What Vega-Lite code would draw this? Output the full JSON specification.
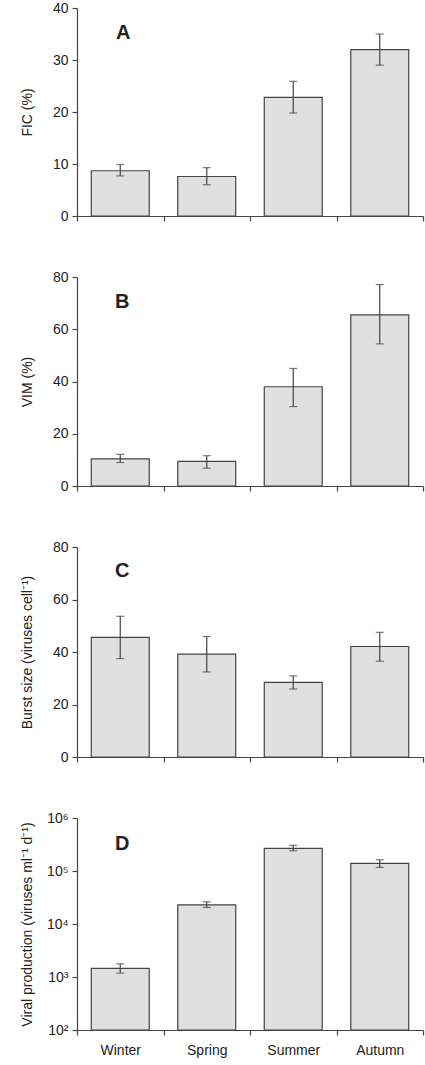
{
  "$schema": "https://vega.github.io/schema/vega-lite/v6.json",
  "padding": {"left": 19, "top": 1, "right": 3, "bottom": 6},
  "config": {
    "view": {"stroke": null},
    "font": "Liberation Sans",
    "concat": {"spacing": 47},
    "axis": {
      "grid": false,
      "domainColor": "#444444",
      "tickColor": "#444444",
      "domainWidth": 1.2,
      "tickWidth": 1.2,
      "tickSize": 5,
      "labelColor": "#222222",
      "titleColor": "#222222",
      "labelFontSize": 14,
      "titleFontSize": 14,
      "titleFontWeight": "normal",
      "labelPadding": 4
    }
  },
  "datasets": {
    "d": [
      {"panel": "A", "season": "Winter", "value": 8.7, "lo": 7.7, "hi": 9.9},
      {"panel": "A", "season": "Spring", "value": 7.6, "lo": 6.0, "hi": 9.3},
      {"panel": "A", "season": "Summer", "value": 22.8, "lo": 19.8, "hi": 25.9},
      {"panel": "A", "season": "Autumn", "value": 32.0, "lo": 29.0, "hi": 35.0},
      {"panel": "B", "season": "Winter", "value": 10.4, "lo": 9.0, "hi": 12.1},
      {"panel": "B", "season": "Spring", "value": 9.4, "lo": 6.8, "hi": 11.6},
      {"panel": "B", "season": "Summer", "value": 38.0, "lo": 30.4, "hi": 45.0},
      {"panel": "B", "season": "Autumn", "value": 65.5, "lo": 54.4, "hi": 77.1},
      {"panel": "C", "season": "Winter", "value": 45.6, "lo": 37.5, "hi": 53.6},
      {"panel": "C", "season": "Spring", "value": 39.2, "lo": 32.4, "hi": 45.9},
      {"panel": "C", "season": "Summer", "value": 28.4, "lo": 25.9, "hi": 30.9},
      {"panel": "C", "season": "Autumn", "value": 42.1, "lo": 36.5, "hi": 47.5},
      {"panel": "D", "season": "Winter", "value": 1450, "lo": 1180, "hi": 1770},
      {"panel": "D", "season": "Spring", "value": 23000, "lo": 20500, "hi": 26200},
      {"panel": "D", "season": "Summer", "value": 267000, "lo": 241000, "hi": 304000},
      {"panel": "D", "season": "Autumn", "value": 139000, "lo": 117000, "hi": 163000}
    ],
    "labels": [
      {"panel": "A", "label": "A"},
      {"panel": "B", "label": "B"},
      {"panel": "C", "label": "C"},
      {"panel": "D", "label": "D"}
    ]
  },
  "vconcat": [
    {
      "width": 346, "height": 208,
      "encoding": {
        "x": {"field": "season", "type": "nominal", "sort": ["Winter", "Spring", "Summer", "Autumn"],
              "scale": {"paddingInner": 0, "paddingOuter": 0},
              "axis": {"title": null, "labels": false, "tickBand": "extent"}}
      },
      "layer": [
        {"data": {"name": "d"}, "transform": [{"filter": "datum.panel === 'A'"}],
         "mark": {"type": "bar", "fill": "#e0e0e0", "stroke": "#444444", "strokeWidth": 1.2, "width": {"band": 0.67}},
         "encoding": {"y": {"field": "value", "type": "quantitative", "scale": {"domain": [0, 40]},
           "axis": {"values": [0, 10, 20, 30, 40], "title": "FIC (%)", "titleX": -50, "titleBaseline": "middle"}}}},
        {"data": {"name": "d"}, "transform": [{"filter": "datum.panel === 'A'"}],
         "mark": {"type": "errorbar", "color": "#444444", "thickness": 1.2, "ticks": {"size": 8, "thickness": 1.2}},
         "encoding": {"y": {"field": "lo", "type": "quantitative", "title": "FIC (%)"}, "y2": {"field": "hi"}}},
        {"data": {"name": "labels"}, "transform": [{"filter": "datum.panel === 'A'"}],
         "mark": {"type": "text", "fontSize": 20, "fontWeight": "bold", "color": "#222222", "dx": 3, "baseline": "middle"},
         "encoding": {"x": {"datum": "Winter"}, "y": {"datum": 35.2}, "text": {"field": "label"}}}
      ]
    },
    {
      "width": 346, "height": 209,
      "encoding": {
        "x": {"field": "season", "type": "nominal", "sort": ["Winter", "Spring", "Summer", "Autumn"],
              "scale": {"paddingInner": 0, "paddingOuter": 0},
              "axis": {"title": null, "labels": false, "tickBand": "extent"}}
      },
      "layer": [
        {"data": {"name": "d"}, "transform": [{"filter": "datum.panel === 'B'"}],
         "mark": {"type": "bar", "fill": "#e0e0e0", "stroke": "#444444", "strokeWidth": 1.2, "width": {"band": 0.67}},
         "encoding": {"y": {"field": "value", "type": "quantitative", "scale": {"domain": [0, 80]},
           "axis": {"values": [0, 20, 40, 60, 80], "title": "VIM (%)", "titleX": -50, "titleBaseline": "middle"}}}},
        {"data": {"name": "d"}, "transform": [{"filter": "datum.panel === 'B'"}],
         "mark": {"type": "errorbar", "color": "#444444", "thickness": 1.2, "ticks": {"size": 8, "thickness": 1.2}},
         "encoding": {"y": {"field": "lo", "type": "quantitative", "title": "VIM (%)"}, "y2": {"field": "hi"}}},
        {"data": {"name": "labels"}, "transform": [{"filter": "datum.panel === 'B'"}],
         "mark": {"type": "text", "fontSize": 20, "fontWeight": "bold", "color": "#222222", "dx": 2, "baseline": "middle"},
         "encoding": {"x": {"datum": "Winter"}, "y": {"datum": 70.3}, "text": {"field": "label"}}}
      ]
    },
    {
      "width": 346, "height": 210,
      "encoding": {
        "x": {"field": "season", "type": "nominal", "sort": ["Winter", "Spring", "Summer", "Autumn"],
              "scale": {"paddingInner": 0, "paddingOuter": 0},
              "axis": {"title": null, "labels": false, "tickBand": "extent"}}
      },
      "layer": [
        {"data": {"name": "d"}, "transform": [{"filter": "datum.panel === 'C'"}],
         "mark": {"type": "bar", "fill": "#e0e0e0", "stroke": "#444444", "strokeWidth": 1.2, "width": {"band": 0.67}},
         "encoding": {"y": {"field": "value", "type": "quantitative", "scale": {"domain": [0, 80]},
           "axis": {"values": [0, 20, 40, 60, 80], "title": "Burst size (viruses cell⁻¹)", "titleX": -50, "titleBaseline": "middle"}}}},
        {"data": {"name": "d"}, "transform": [{"filter": "datum.panel === 'C'"}],
         "mark": {"type": "errorbar", "color": "#444444", "thickness": 1.2, "ticks": {"size": 8, "thickness": 1.2}},
         "encoding": {"y": {"field": "lo", "type": "quantitative", "title": "Burst size (viruses cell⁻¹)"}, "y2": {"field": "hi"}}},
        {"data": {"name": "labels"}, "transform": [{"filter": "datum.panel === 'C'"}],
         "mark": {"type": "text", "fontSize": 20, "fontWeight": "bold", "color": "#222222", "dx": 2, "baseline": "middle"},
         "encoding": {"x": {"datum": "Winter"}, "y": {"datum": 71}, "text": {"field": "label"}}}
      ]
    },
    {
      "width": 346, "height": 212,
      "encoding": {
        "x": {"field": "season", "type": "nominal", "sort": ["Winter", "Spring", "Summer", "Autumn"],
              "scale": {"paddingInner": 0, "paddingOuter": 0},
              "axis": {"title": null, "labelAngle": 0, "tickBand": "extent", "labelPadding": 8}}
      },
      "layer": [
        {"data": {"name": "d"}, "transform": [{"filter": "datum.panel === 'D'"}],
         "mark": {"type": "bar", "fill": "#e0e0e0", "stroke": "#444444", "strokeWidth": 1.2, "width": {"band": 0.67}},
         "encoding": {"y": {"field": "value", "type": "quantitative", "scale": {"type": "log", "domain": [100, 1000000]},
           "axis": {"values": [100, 1000, 10000, 100000, 1000000], "title": "Viral production (viruses ml⁻¹ d⁻¹)", "titleX": -50, "titleBaseline": "middle",
                    "labelExpr": "'10' + ['⁰','¹','²','³','⁴','⁵','⁶'][round(log(datum.value)/LN10)]"}},
           "y2": {"datum": 100}}},
        {"data": {"name": "d"}, "transform": [{"filter": "datum.panel === 'D'"}],
         "mark": {"type": "errorbar", "color": "#444444", "thickness": 1.2, "ticks": {"size": 8, "thickness": 1.2}},
         "encoding": {"y": {"field": "lo", "type": "quantitative", "title": "Viral production (viruses ml⁻¹ d⁻¹)"}, "y2": {"field": "hi"}}},
        {"data": {"name": "labels"}, "transform": [{"filter": "datum.panel === 'D'"}],
         "mark": {"type": "text", "fontSize": 20, "fontWeight": "bold", "color": "#222222", "dx": 2, "baseline": "middle"},
         "encoding": {"x": {"datum": "Winter"}, "y": {"datum": 320000}, "text": {"field": "label"}}}
      ]
    }
  ]
}
